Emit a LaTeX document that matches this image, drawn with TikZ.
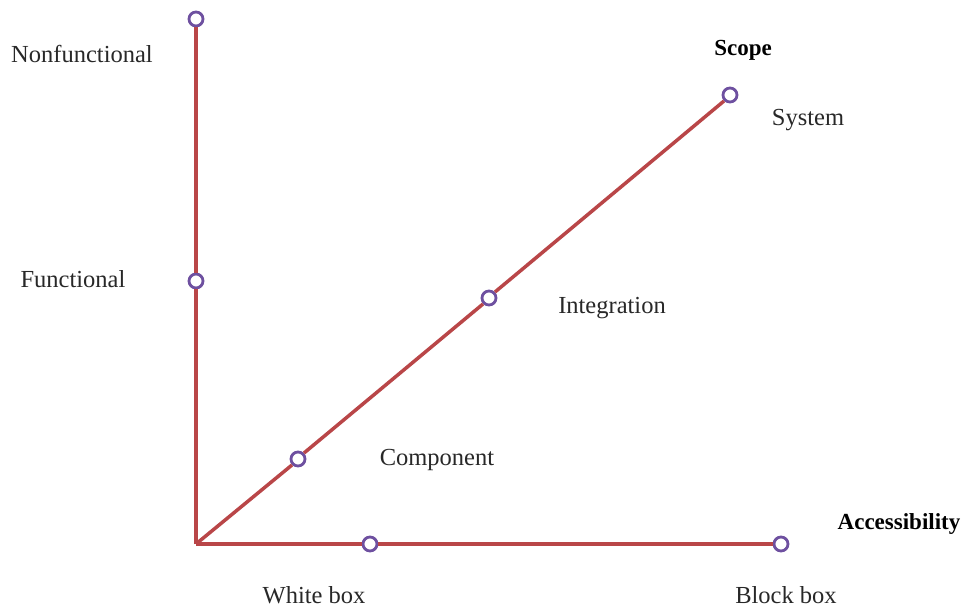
\documentclass[tikz,border=0pt]{standalone}
\usepackage{fontspec}
\setmainfont{Liberation Serif}
\begin{document}
\begin{tikzpicture}[x=1pt,y=-1pt,
  axis/.style={draw={rgb,255:red,185;green,70;blue,72},line width=3.5pt},
  dot/.style={circle,draw={rgb,255:red,110;green,80;blue,160},line width=2.8pt,fill=white,minimum size=14pt,inner sep=0pt},
  lbl/.style={font=\fontsize{24.5}{28}\selectfont,text={rgb,255:red,40;green,40;blue,40}},
  blbl/.style={font=\fontsize{23}{27}\selectfont\bfseries}]
\useasboundingbox (0,0) rectangle (964,609);
\coordinate (o) at (196,544);
\node[dot] (nf) at (196,19) {};
\node[dot] (fn) at (196,281) {};
\node[dot] (cp) at (298,459) {};
\node[dot] (ig) at (489,298) {};
\node[dot] (sy) at (730,95) {};
\node[dot] (wb) at (370,544) {};
\node[dot] (bb) at (781,544) {};
\draw[axis] (o) -- (fn.south) (fn.north) -- (nf.south);
\draw[axis] (o) -- (cp.south west) (cp.north east) -- (ig.south west) (ig.north east) -- (sy.south west);
\draw[axis] (o) -- (wb.west) (wb.east) -- (bb.west);
\node[lbl] (tnf) at (82,54) {Nonfunctional};
\node[lbl] (tfn) at (73,279) {Functional};
\node[blbl] (tsc) at (743,50) {Scope};
\node[lbl] (tsy) at (808,120) {System};
\node[lbl] (tig) at (612,308) {Integration};
\node[lbl] (tcp) at (437,460) {Component};
\node[blbl] (tac) at (899,524) {Accessibility};
\node[lbl] (twb) at (314,595) {White box};
\node[lbl] (tbb) at (786,595) {Block box};
\end{tikzpicture}
\end{document}
